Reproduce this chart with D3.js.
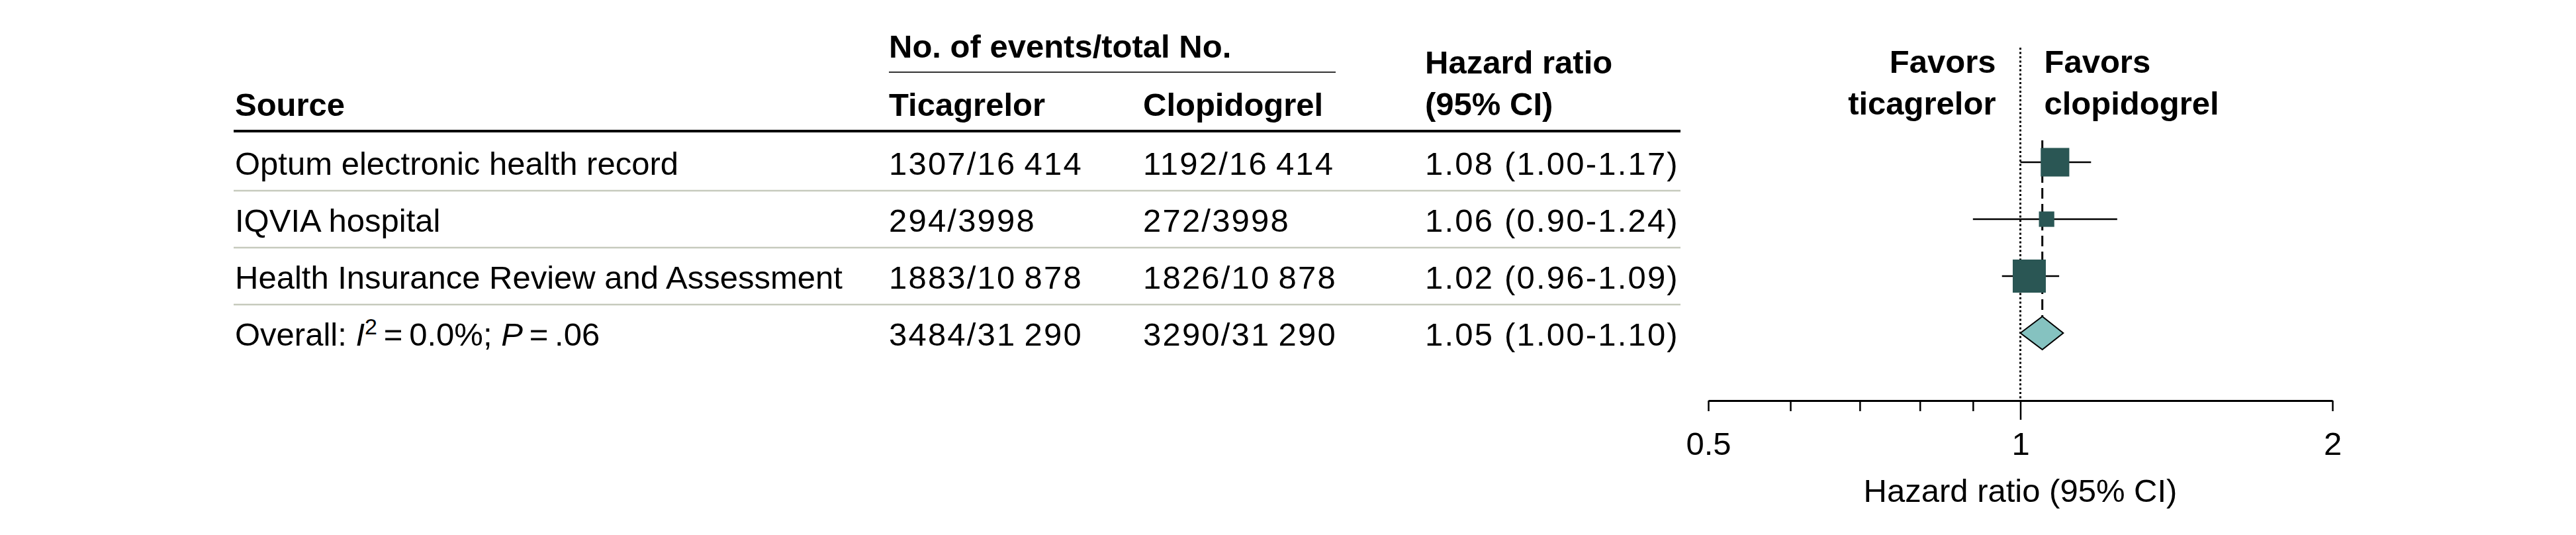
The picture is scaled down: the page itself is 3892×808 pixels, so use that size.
<!DOCTYPE html>
<html>
<head>
<meta charset="utf-8">
<script src="https://cdn.jsdelivr.net/npm/d3@7"></script>
<style>
    html, body { margin: 0; padding: 0; background: #fff; }
    svg text { font-family: "Liberation Sans", Arial, sans-serif; fill: #000; }
    .bold { font-weight: bold; }
    .num { letter-spacing: 2.2px; }
</style>
</head>
<body>
<svg id="chart" width="3892" height="808"></svg>
<script>
// study rows
var sources = ["Optum electronic health record", "IQVIA hospital", "Health Insurance Review and Assessment"];
var ticagrelorEvents = [1307, 294, 1883];
var ticagrelorTotal = [16414, 3998, 10878];
var clopidogrelEvents = [1192, 272, 1826];
var clopidogrelTotal = [16414, 3998, 10878];
var hazardRatio = [1.08, 1.06, 1.02];
var ciLower = [1.00, 0.90, 0.96];
var ciUpper = [1.17, 1.24, 1.09];
var studyWeight = [38, 11, 51]; // % weight

// pooled row
var overallTicagrelor = [3484, 31290];
var overallClopidogrel = [3290, 31290];
var overallHR = [1.05, 1.00, 1.10];
var overallI2 = "0.0%";
var overallP = ".06";

// axis
var majorTicks = [0.5, 1, 2];
var minorTicks = [0.6, 0.7, 0.8, 0.9];
var axisTitle = "Hazard ratio (95% CI)";

var svg = d3.select("#chart"),
    fontSize = 49,
    left = 353,
    tableRight = 2539,
    colTicagrelor = 1343,
    colClopidogrel = 1727,
    colHR = 2153;

var rowKeys = d3.range(sources.length + 1);
var y = d3.scaleBand().domain(rowKeys).range([202, 546]).paddingInner(0);
var yMid = function (i) { return y(i) + y.bandwidth() / 2; };
var baseOff = 19;

var x = d3.scaleLog().base(2).domain([0.5, 2]).range([2581, 3524]);
var size = d3.scaleSqrt().domain([0, d3.max(studyWeight)]).range([0, 50]);

var thin = "\u2009";
function fmtN(n) {
    return n >= 10000 ? d3.format(",")(n).replace(",", thin) : String(n);
}
function fmtHR(h, lo, hi) {
    var f = d3.format(".2f");
    return f(h) + " (" + f(lo) + "-" + f(hi) + ")";
}

// ---- headers
svg.append("text").attr("class", "bold").attr("x", colTicagrelor).attr("y", 87)
    .style("font-size", fontSize + "px").text("No. of events/total No.");
svg.append("line").attr("x1", colTicagrelor).attr("x2", 2018).attr("y1", 109).attr("y2", 109)
    .attr("stroke", "#333").attr("stroke-width", 2);
svg.append("text").attr("class", "bold").attr("x", left + 2).attr("y", 175)
    .style("font-size", fontSize + "px").text("Source");
svg.append("text").attr("class", "bold").attr("x", colTicagrelor).attr("y", 175)
    .style("font-size", fontSize + "px").text("Ticagrelor");
svg.append("text").attr("class", "bold").attr("x", colClopidogrel).attr("y", 175)
    .style("font-size", fontSize + "px").text("Clopidogrel");
svg.append("text").attr("class", "bold").attr("x", colHR).attr("y", 111)
    .style("font-size", fontSize + "px").text("Hazard ratio");
svg.append("text").attr("class", "bold").attr("x", colHR).attr("y", 174)
    .style("font-size", fontSize + "px").text("(95% CI)");
svg.append("line").attr("x1", left).attr("x2", tableRight).attr("y1", 198).attr("y2", 198)
    .attr("stroke", "#000").attr("stroke-width", 4);

// row separators
svg.selectAll("line.sep").data(rowKeys.slice(1)).enter().append("line")
    .attr("class", "sep")
    .attr("x1", left).attr("x2", tableRight)
    .attr("y1", function (d) { return y(d); }).attr("y2", function (d) { return y(d); })
    .attr("stroke", "#c6cabd").attr("stroke-width", 2.5);

// ---- study rows text
var rows = svg.selectAll("g.row").data(sources).enter().append("g").attr("class", "row")
    .style("font-size", fontSize + "px");
rows.append("text").attr("x", left + 2).attr("y", function (d, i) { return yMid(i) + baseOff; })
    .text(function (d) { return d; });
rows.append("text").attr("class", "num").attr("x", colTicagrelor).attr("y", function (d, i) { return yMid(i) + baseOff; })
    .text(function (d, i) { return ticagrelorEvents[i] + "/" + fmtN(ticagrelorTotal[i]); });
rows.append("text").attr("class", "num").attr("x", colClopidogrel).attr("y", function (d, i) { return yMid(i) + baseOff; })
    .text(function (d, i) { return clopidogrelEvents[i] + "/" + fmtN(clopidogrelTotal[i]); });
rows.append("text").attr("class", "num").attr("x", colHR).attr("y", function (d, i) { return yMid(i) + baseOff; })
    .text(function (d, i) { return fmtHR(hazardRatio[i], ciLower[i], ciUpper[i]); });

// overall row
var oi = sources.length;
var ov = svg.append("g").style("font-size", fontSize + "px");
var lbl = ov.append("text").attr("x", left + 2).attr("y", yMid(oi) + baseOff);
lbl.append("tspan").text("Overall: ");
lbl.append("tspan").style("font-style", "italic").text("I");
lbl.append("tspan").attr("dy", -17).style("font-size", "34px").text("2");
lbl.append("tspan").attr("dy", 17).text(thin + "=" + thin + overallI2 + "; ");
lbl.append("tspan").style("font-style", "italic").text("P");
lbl.append("tspan").text(thin + "=" + thin + overallP);
ov.append("text").attr("class", "num").attr("x", colTicagrelor).attr("y", yMid(oi) + baseOff)
    .text(overallTicagrelor[0] + "/" + fmtN(overallTicagrelor[1]));
ov.append("text").attr("class", "num").attr("x", colClopidogrel).attr("y", yMid(oi) + baseOff)
    .text(overallClopidogrel[0] + "/" + fmtN(overallClopidogrel[1]));
ov.append("text").attr("class", "num").attr("x", colHR).attr("y", yMid(oi) + baseOff)
    .text(fmtHR(overallHR[0], overallHR[1], overallHR[2]));

// ---- forest plot
var axisY = 605;

svg.append("line").attr("x1", x(1)).attr("x2", x(1)).attr("y1", 72).attr("y2", axisY)
    .attr("stroke", "#000").attr("stroke-width", 3).attr("stroke-dasharray", "3,3.5");

svg.append("text").attr("class", "bold").attr("x", x(1) - 37).attr("y", 110)
    .attr("text-anchor", "end").style("font-size", fontSize + "px").text("Favors");
svg.append("text").attr("class", "bold").attr("x", x(1) - 37).attr("y", 173)
    .attr("text-anchor", "end").style("font-size", fontSize + "px").text("ticagrelor");
svg.append("text").attr("class", "bold").attr("x", x(1) + 36).attr("y", 110)
    .style("font-size", fontSize + "px").text("Favors");
svg.append("text").attr("class", "bold").attr("x", x(1) + 36).attr("y", 173)
    .style("font-size", fontSize + "px").text("clopidogrel");

// pooled estimate dashed line
svg.append("line").attr("x1", x(overallHR[0])).attr("x2", x(overallHR[0]))
    .attr("y1", 212).attr("y2", yMid(oi) - 25)
    .attr("stroke", "#000").attr("stroke-width", 3).attr("stroke-dasharray", "16,8");

var marks = svg.selectAll("g.mark").data(hazardRatio).enter().append("g").attr("class", "mark");
marks.append("line")
    .attr("x1", function (d, i) { return x(ciLower[i]); })
    .attr("x2", function (d, i) { return x(ciUpper[i]); })
    .attr("y1", function (d, i) { return yMid(i); })
    .attr("y2", function (d, i) { return yMid(i); })
    .attr("stroke", "#000").attr("stroke-width", 2.5);
marks.append("rect")
    .attr("x", function (d, i) { return x(d) - size(studyWeight[i]) / 2; })
    .attr("y", function (d, i) { return yMid(i) - size(studyWeight[i]) / 2; })
    .attr("width", function (d, i) { return size(studyWeight[i]); })
    .attr("height", function (d, i) { return size(studyWeight[i]); })
    .attr("fill", "#2a5654");

// diamond
var dy = yMid(oi);
svg.append("path")
    .attr("d", "M" + x(overallHR[1]) + "," + dy +
        "L" + x(overallHR[0]) + "," + (dy - 25) +
        "L" + x(overallHR[2]) + "," + dy +
        "L" + x(overallHR[0]) + "," + (dy + 25) + "Z")
    .attr("fill", "#85c2c0").attr("stroke", "#000").attr("stroke-width", 2);

// axis
var axis = d3.axisBottom(x)
    .tickValues(majorTicks.concat(minorTicks).sort(d3.ascending))
    .tickFormat(function (d) { return majorTicks.indexOf(d) >= 0 ? d : ""; })
    .tickSize(16).tickSizeOuter(0).tickPadding(31);
var ax = svg.append("g").attr("transform", "translate(0," + axisY + ")").call(axis);
ax.select(".domain").attr("stroke", "#000").attr("stroke-width", 3);
ax.selectAll(".tick line").attr("stroke", "#000").attr("stroke-width", 2.5)
    .attr("y2", function (d) { return d === 1 ? 29 : 16; });
ax.selectAll(".tick text").style("font-size", fontSize + "px")
    .style("font-family", "'Liberation Sans', Arial, sans-serif").attr("fill", "#000");

svg.append("text").attr("x", x(1)).attr("y", 758).attr("text-anchor", "middle")
    .style("font-size", fontSize + "px").text(axisTitle);
</script>
</body>
</html>
